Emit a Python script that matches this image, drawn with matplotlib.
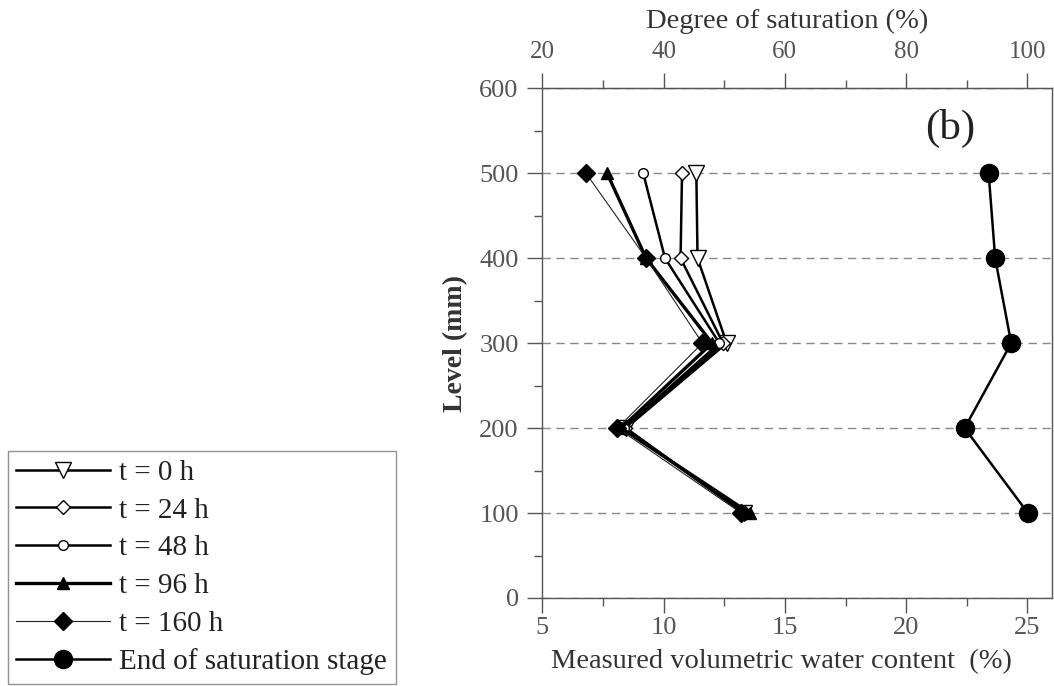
import matplotlib
matplotlib.use("Agg")
import matplotlib.pyplot as plt
from matplotlib.ticker import MultipleLocator

plt.rcParams['font.family'] = ['Liberation Serif', 'DejaVu Serif']

levels = [100, 200, 300, 400, 500]
wc_0h = [13.30, 8.45, 12.60, 11.40, 11.35]
wc_24h = [13.35, 8.40, 12.45, 10.70, 10.76]
wc_48h = [13.30, 8.35, 12.30, 10.06, 9.16]
wc_96h = [13.55, 8.25, 12.00, 9.28, 7.67]
wc_160h = [13.20, 8.10, 11.60, 9.28, 6.80]
wc_end = [25.02, 22.41, 24.33, 23.67, 23.40]

labels = ["t = 0 h", "t = 24 h", "t = 48 h", "t = 96 h", "t = 160 h",
          "End of saturation stage"]

tick_col = '#555555'
text_col = '#333333'

fig = plt.figure(figsize=(10.54, 6.86), dpi=100)
ax = fig.add_axes([542.3/1054, 1-598/686, (1051.7-542.3)/1054, (598-88.3)/686])

series = [
    (wc_0h, dict(marker='v', ms=11, mfc='white', mec='black', mew=1.0, lw=1.8, color='black')),
    (wc_24h, dict(marker='D', ms=7, mfc='white', mec='black', mew=1.0, lw=1.8, color='black')),
    (wc_48h, dict(marker='o', ms=7, mfc='white', mec='black', mew=1.0, lw=1.8, color='black')),
    (wc_96h, dict(marker='^', ms=9, mfc='black', mec='black', lw=2.4, color='black')),
    (wc_160h, dict(marker='D', ms=9, mfc='black', mec='black', lw=0.8, color='#222222')),
    (wc_end, dict(marker='o', ms=13, mfc='black', mec='black', lw=1.8, color='black')),
]
handles = []
for (vals, st), lab in zip(series, labels):
    ln, = ax.plot(vals, levels, label=lab, zorder=3, **st)
    handles.append(ln)

ax.set_xlim(5, 26)
ax.set_ylim(0, 600)
ax.xaxis.set_major_locator(MultipleLocator(5))
ax.xaxis.set_minor_locator(MultipleLocator(2.5))
ax.yaxis.set_major_locator(MultipleLocator(100))
ax.yaxis.set_minor_locator(MultipleLocator(50))
ax.yaxis.grid(True, which='major', linestyle=(0, (6, 4)), color='#888888', lw=1.0)
ax.set_axisbelow(True)

ax.tick_params(axis='both', which='major', direction='out', length=11, width=1,
               color=tick_col, labelcolor=tick_col, labelsize=19, pad=3)
ax.tick_params(axis='y', which='major', pad=6)
ax.tick_params(axis='both', which='minor', direction='out', length=6, width=1,
               color=tick_col)
ax.tick_params(axis='y', which='both', right=False)
for s in ax.spines.values():
    s.set_color(tick_col)
    s.set_linewidth(1.0)

ax.set_xlabel("Measured volumetric water content  (%)", fontsize=20.5, color=text_col)
ax.xaxis.set_label_coords((781 - 542.3) / 509.4, -0.10)
ax.set_ylabel("Level (mm)", fontsize=20, color=text_col, fontweight='bold')
ax.yaxis.set_label_coords(-(542.3 - 468) / 509.4, 0.5)

sec = ax.secondary_xaxis('top', functions=(lambda x: 4*x, lambda s: s/4))
sec.xaxis.set_major_locator(MultipleLocator(20))
sec.xaxis.set_minor_locator(MultipleLocator(10))
sec.tick_params(axis='x', which='major', direction='out', length=11, width=1,
                color=tick_col, labelcolor=tick_col, labelsize=18, pad=7.5)
sec.tick_params(axis='x', which='minor', direction='out', length=6, width=1, color=tick_col)
sec.spines['top'].set_color(tick_col)
fig.text(787/1054, 1-21/686, "Degree of saturation (%)", fontsize=20.5,
         color=text_col, ha='center', va='center')

ax.text(950/1054, 1-128/686, "(b)", transform=fig.transFigure, fontsize=31,
        color='#222222', ha='center', va='center')

leg = fig.legend(handles=handles, labels=labels, loc='lower left',
                 bbox_to_anchor=(7.5/1054, 2/686), bbox_transform=fig.transFigure,
                 fontsize=21, frameon=True, fancybox=False, edgecolor='#777777',
                 handlelength=3.2, handletextpad=0.33, labelspacing=0.39,
                 borderpad=0.3, borderaxespad=0)
leg.get_frame().set_linewidth(1.0)
for t in leg.get_texts():
    t.set_color('#222222')

fig.savefig("out.png", dpi=100)
